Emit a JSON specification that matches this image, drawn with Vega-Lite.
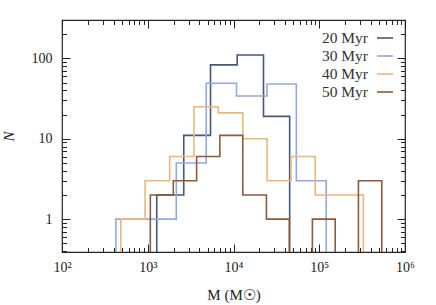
{
  "$schema": "https://vega.github.io/schema/vega-lite/v6.json",
  "width": 343,
  "height": 232,
  "autosize": "none",
  "padding": {"left": 62, "top": 20, "right": 31, "bottom": 53},
  "background": "white",
  "config": {
    "view": {"stroke": "#222", "strokeWidth": 1.2},
    "font": "Liberation Serif",
    "axis": {
      "grid": false, "domain": false, "ticks": true, "tickColor": "#222", "tickWidth": 1,
      "labelFont": "Liberation Serif", "labelFontSize": 14, "labelColor": "#222",
      "titleFont": "Liberation Serif", "titleFontSize": 15, "titleColor": "#222", "titleFontWeight": "normal",
      "labelOverlap": false, "labelFlush": false
    }
  },
  "data": {"values": [
    {"age": "20 Myr", "i": 0, "M": 1274, "N": 0.01},
    {"age": "20 Myr", "i": 1, "M": 1274, "N": 2},
    {"age": "20 Myr", "i": 2, "M": 2630, "N": 11},
    {"age": "20 Myr", "i": 3, "M": 5395, "N": 83},
    {"age": "20 Myr", "i": 4, "M": 11041, "N": 110},
    {"age": "20 Myr", "i": 5, "M": 22387, "N": 19},
    {"age": "20 Myr", "i": 6, "M": 45186, "N": 0.01},
    {"age": "30 Myr", "i": 0, "M": 425, "N": 0.01},
    {"age": "30 Myr", "i": 1, "M": 425, "N": 1},
    {"age": "30 Myr", "i": 2, "M": 955, "N": 1},
    {"age": "30 Myr", "i": 3, "M": 2153, "N": 5},
    {"age": "30 Myr", "i": 4, "M": 4808, "N": 49},
    {"age": "30 Myr", "i": 5, "M": 10839, "N": 34},
    {"age": "30 Myr", "i": 6, "M": 24547, "N": 48},
    {"age": "30 Myr", "i": 7, "M": 54075, "N": 3},
    {"age": "30 Myr", "i": 8, "M": 120504, "N": 0.01},
    {"age": "40 Myr", "i": 0, "M": 485, "N": 0.01},
    {"age": "40 Myr", "i": 1, "M": 485, "N": 1},
    {"age": "40 Myr", "i": 2, "M": 931, "N": 3},
    {"age": "40 Myr", "i": 3, "M": 1803, "N": 6},
    {"age": "40 Myr", "i": 4, "M": 3459, "N": 25},
    {"age": "40 Myr", "i": 5, "M": 6637, "N": 21},
    {"age": "40 Myr", "i": 6, "M": 12823, "N": 10},
    {"age": "40 Myr", "i": 7, "M": 24660, "N": 3},
    {"age": "40 Myr", "i": 8, "M": 46774, "N": 6},
    {"age": "40 Myr", "i": 9, "M": 89743, "N": 2},
    {"age": "40 Myr", "i": 10, "M": 171396, "N": 2},
    {"age": "40 Myr", "i": 11, "M": 327341, "N": 0.01},
    {"age": "50 Myr", "i": 0, "M": 1072, "N": 0.01},
    {"age": "50 Myr", "i": 1, "M": 1072, "N": 2},
    {"age": "50 Myr", "i": 2, "M": 1986, "N": 3},
    {"age": "50 Myr", "i": 3, "M": 3715, "N": 6},
    {"age": "50 Myr", "i": 4, "M": 6934, "N": 11},
    {"age": "50 Myr", "i": 5, "M": 12823, "N": 2},
    {"age": "50 Myr", "i": 6, "M": 24210, "N": 1},
    {"age": "50 Myr", "i": 7, "M": 44771, "N": 0.01},
    {"age": "50 Myr", "i": 8, "M": 83176, "N": 1},
    {"age": "50 Myr", "i": 9, "M": 153462, "N": 0.01},
    {"age": "50 Myr", "i": 10, "M": 286418, "N": 3},
    {"age": "50 Myr", "i": 11, "M": 535797, "N": 0.01}
  ]},
  "layer": [
    {
      "mark": {"type": "line", "interpolate": "step-after", "clip": true, "strokeWidth": 1.6},
      "encoding": {
        "x": {
          "field": "M", "type": "quantitative",
          "scale": {"type": "log", "domain": [100, 1000000], "nice": false},
          "axis": {
            "orient": "bottom", "title": "M  (M☉)", "titlePadding": 10, "labelPadding": 16,
            "values": [100,200,300,400,500,600,700,800,900,1000,2000,3000,4000,5000,6000,7000,8000,9000,10000,20000,30000,40000,50000,60000,70000,80000,90000,100000,200000,300000,400000,500000,600000,700000,800000,900000,1000000],
            "labelExpr": "abs(log(datum.value)/LN10 - round(log(datum.value)/LN10)) < 0.001 ? '10' + ['⁰','¹','²','³','⁴','⁵','⁶'][round(log(datum.value)/LN10)] : ''",
            "tickSize": {"expr": "abs(log(datum.value)/LN10 - round(log(datum.value)/LN10)) < 0.001 ? -8 : -4.5"}
          }
        },
        "y": {
          "field": "N", "type": "quantitative",
          "scale": {"type": "log", "domain": [0.39, 300], "nice": false},
          "axis": {
            "orient": "left", "title": "N", "titleFontStyle": "italic", "titlePadding": 15, "labelPadding": 18,
            "values": [0.4,0.5,0.6,0.7,0.8,0.9,1,2,3,4,5,6,7,8,9,10,20,30,40,50,60,70,80,90,100,200,300],
            "labelExpr": "abs(log(datum.value)/LN10 - round(log(datum.value)/LN10)) < 0.001 ? format(datum.value, 'd') : ''",
            "tickSize": {"expr": "abs(log(datum.value)/LN10 - round(log(datum.value)/LN10)) < 0.001 ? -8 : -4.5"}
          }
        },
        "color": {
          "field": "age", "type": "nominal",
          "scale": {"domain": ["20 Myr", "30 Myr", "40 Myr", "50 Myr"], "range": ["#465874", "#92aadb", "#ebb87a", "#8c5a3c"]},
          "legend": {
            "orient": "none", "legendX": 302, "legendY": 9, "title": null,
            "symbolType": "stroke", "symbolSize": 256, "symbolStrokeWidth": 1.6,
            "labelAlign": "right", "labelOffset": -26, "symbolOffset": 12,
            "labelFont": "Liberation Serif", "labelFontSize": 15.5, "labelColor": "#333",
            "rowPadding": 0, "padding": 0
          }
        },
        "order": {"field": "i", "type": "quantitative"}
      }
    },
    {
      "mark": {"type": "point", "opacity": 0, "clip": true},
      "encoding": {
        "x": {
          "field": "M", "type": "quantitative",
          "scale": {"type": "log", "domain": [100, 1000000], "nice": false},
          "axis": {
            "orient": "top", "title": null, "labels": false,
            "values": [100,200,300,400,500,600,700,800,900,1000,2000,3000,4000,5000,6000,7000,8000,9000,10000,20000,30000,40000,50000,60000,70000,80000,90000,100000,200000,300000,400000,500000,600000,700000,800000,900000,1000000],
            "tickSize": {"expr": "abs(log(datum.value)/LN10 - round(log(datum.value)/LN10)) < 0.001 ? -8 : -4.5"}
          }
        },
        "y": {
          "field": "N", "type": "quantitative",
          "scale": {"type": "log", "domain": [0.39, 300], "nice": false},
          "axis": {
            "orient": "right", "title": null, "labels": false,
            "values": [0.4,0.5,0.6,0.7,0.8,0.9,1,2,3,4,5,6,7,8,9,10,20,30,40,50,60,70,80,90,100,200,300],
            "tickSize": {"expr": "abs(log(datum.value)/LN10 - round(log(datum.value)/LN10)) < 0.001 ? -8 : -4.5"}
          }
        }
      }
    }
  ],
  "resolve": {"axis": {"x": "independent", "y": "independent"}}
}
